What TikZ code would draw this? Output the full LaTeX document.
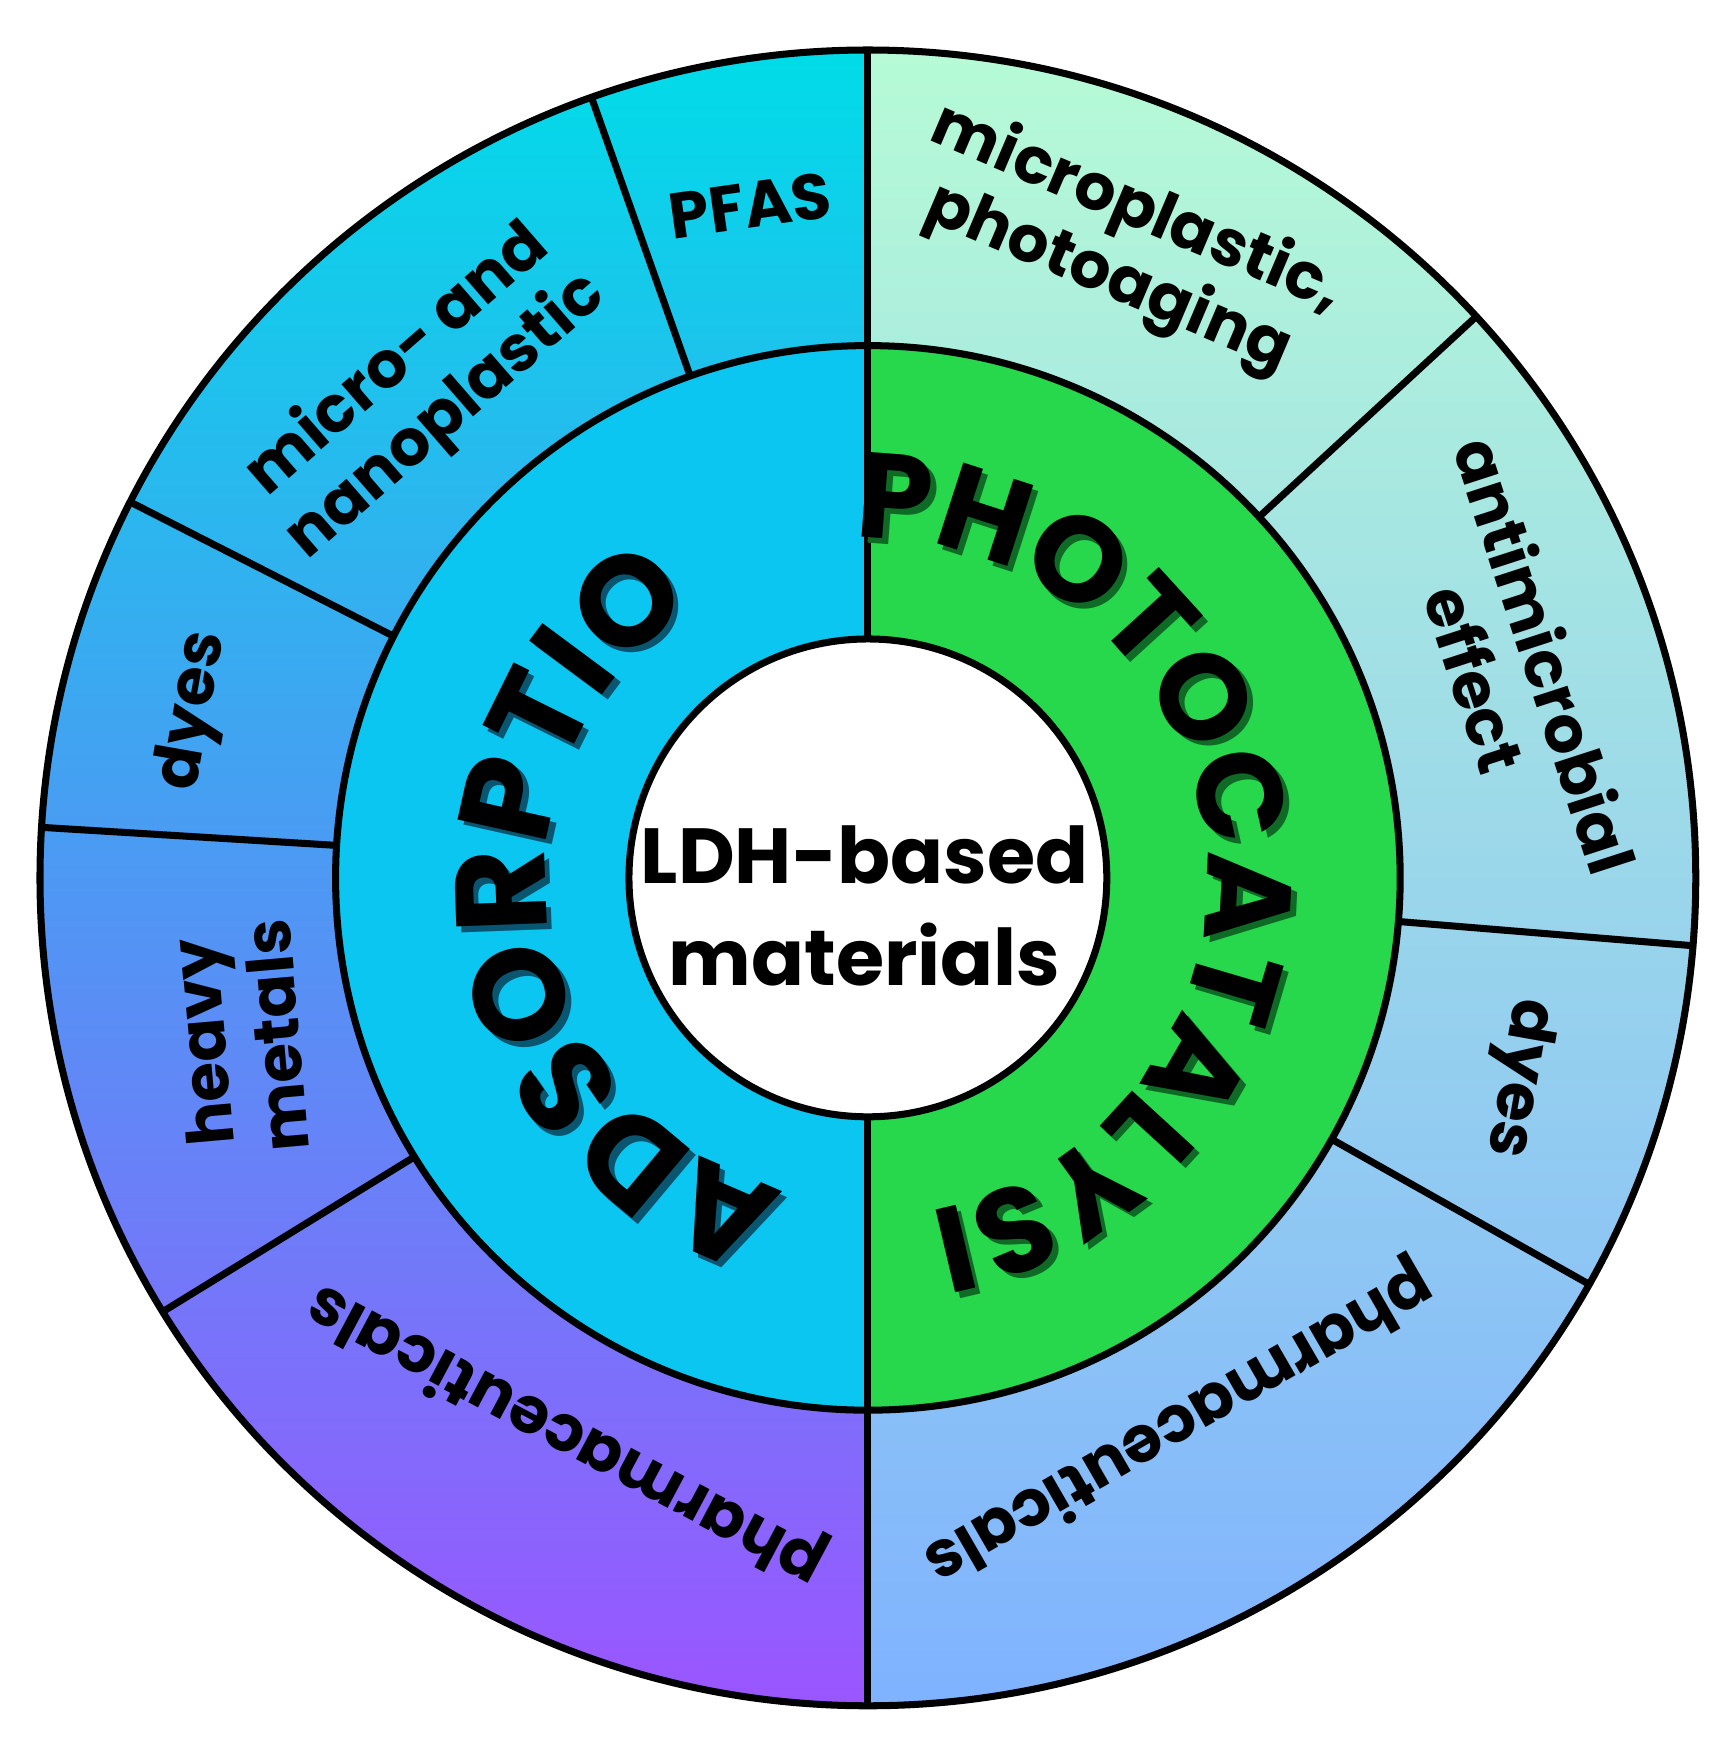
\documentclass[tikz,border=0pt]{standalone}
\usepackage{fontspec}
\setmainfont{Poppins}
\usetikzlibrary{decorations.text}
\begin{document}
\begin{tikzpicture}[
  lbl/.style={font=\fontsize{16.5}{19}\selectfont\bfseries, align=center, text=black},
  sep/.style={line width=1.8pt, draw=black}]
\useasboundingbox (-7.81,-7.83) rectangle (7.80,7.90);
\definecolor{cyanT}{HTML}{00DCE8}
\definecolor{purpB}{HTML}{9B55FF}
\definecolor{mintT}{HTML}{B6FBD6}
\definecolor{blueB}{HTML}{7FB2FF}
\definecolor{adsC}{HTML}{0CC6F2}
\definecolor{phoC}{HTML}{27D74C}
\definecolor{shA}{HTML}{0A5570}
\definecolor{shP}{HTML}{0E6A25}
\def\RO{7.45}\def\RM{4.79}\def\RI{2.15}
% outer halves
\shade[top color=cyanT, bottom color=purpB] (90:\RO) arc[start angle=90,end angle=270,radius=\RO] -- (270:\RM) arc[start angle=270,end angle=90,radius=\RM] -- cycle;
\shade[top color=mintT, bottom color=blueB] (90:\RO) arc[start angle=90,end angle=-90,radius=\RO] -- (-90:\RM) arc[start angle=-90,end angle=90,radius=\RM] -- cycle;
% inner halves
\fill[adsC] (90:\RM) arc[start angle=90,end angle=270,radius=\RM] -- cycle;
\fill[phoC] (90:\RM) arc[start angle=90,end angle=-90,radius=\RM] -- cycle;
\node[circle, fill=white, draw=black, line width=1.8pt, minimum size=4.3cm] (core) at (0,0) {};
% outlines
\draw[sep] (0,0) circle (\RO);
\draw[sep] (0,0) circle (\RM);
\draw[sep] (90:\RI) -- (90:\RO);
\draw[sep] (270:\RI) -- (270:\RO);
\foreach \a in {109.5,153,176.5,211.6,42.7,-4.7,-29.4}
  \draw[sep] (\a:\RM) -- (\a:\RO);
% outer labels
\node[lbl, rotate=8] (pfas) at (-1.06,6.05) {PFAS};
\node[lbl, rotate=41] (mnp) at (-4.01,4.40) {micro- and\\nanoplastic};
\node[lbl, rotate=80] (dyesL) at (-6.06,1.50) {dyes};
\node[lbl, rotate=95] (hm) at (-5.66,-1.45) {heavy\\metals};
\node[lbl, rotate=152] (phL) at (-2.71,-5.00) {pharmaceuticals};
\node[lbl, rotate=210] (phR) at (2.79,-4.90) {pharmaceuticals};
\node[lbl, rotate=-100] (dyesR) at (5.84,-1.80) {dyes};
\node[lbl, rotate=-72] (am) at (5.79,1.90) {antimicrobial\\effect};
\node[lbl, rotate=-23] (mp) at (2.29,5.70) {microplastic,\\photoaging};
% curved big labels with shadow
\path[decorate, decoration={text along path, text color=shA, text align=center,
  text=|\fontsize{33}{36}\selectfont\bfseries|ADSORPTION}]
  ([shift={(0.05,-0.05)}]245:2.90) arc[start angle=245, end angle=115, radius=2.90];
\path[decorate, decoration={text along path, text color=black, text align=center,
  text=|\fontsize{33}{36}\selectfont\bfseries|ADSORPTION}]
  (245:2.90) arc[start angle=245, end angle=115, radius=2.90];
\path[decorate, decoration={text along path, text color=shP, text align=center,
  text=|\fontsize{31}{34}\selectfont\bfseries|PHOTOCATALYSIS}]
  ([shift={(0.05,-0.05)}]80:3.05) arc[start angle=80, end angle=-80, radius=3.05];
\path[decorate, decoration={text along path, text color=black, text align=center,
  text=|\fontsize{31}{34}\selectfont\bfseries|PHOTOCATALYSIS}]
  (80:3.05) arc[start angle=80, end angle=-80, radius=3.05];
\node[font=\fontsize{20}{26}\selectfont\bfseries, align=center] (ldh) at (-0.03,-0.25) {LDH-based\\materials};
\end{tikzpicture}
\end{document}
